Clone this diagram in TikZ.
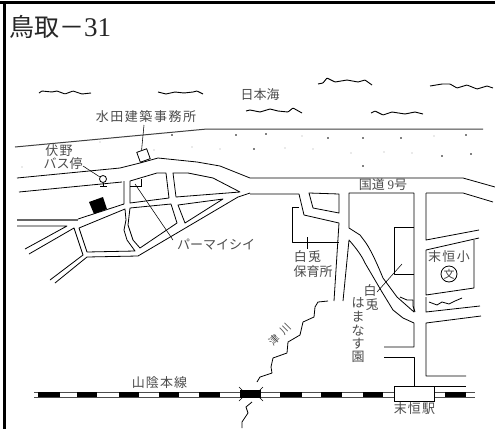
\documentclass[tikz,border=0pt]{standalone}
\usepackage{fontspec}
\newfontfamily\cjk{Noto Sans CJK JP}
\setmainfont{Liberation Serif}
\definecolor{txt}{gray}{0.3}
\tikzset{
  road/.style={line width=0.8pt,black,line join=round},
  thin/.style={line width=0.55pt,black},
  wave/.style={line width=0.9pt,black,rounded corners=0.6pt},
  lab/.style={inner sep=0pt,text=txt,font=\cjk\fontsize{13}{13}\selectfont},
  railbar/.style={line width=0.9pt,black!70}
}
\begin{document}
\begin{tikzpicture}[x=1pt,y=-1pt]
\useasboundingbox (0,0) rectangle (495,429);
\fill[white] (0,0) rectangle (495,429);
% frame
\fill[black] (0,1) rectangle (495,4);
\fill[black] (3,1) rectangle (6,429);
% title
\node[anchor=west,inner sep=0pt,text=black!85] (title) at (9,27) {\cjk\fontsize{25}{25}\selectfont 鳥取－{\rmfamily\fontsize{27}{27}\selectfont 31}};
% waves
\draw[wave] (39,93)--(42,91)--(52,92)--(57,91)--(65,94)--(73,91)--(82,94)--(91,93);
\draw[wave] (158,92)--(166,94)--(175,92)--(184,93)--(193,92)--(197,91)--(203,94);
\draw[wave] (246,111)--(250,110)--(260,112)--(270,109)--(278,111)--(288,112)--(293,108)--(302,113);
\draw[wave] (318,84)--(323,83)--(327,78)--(335,82)--(347,80)--(358,82)--(365,80)--(372,85);
\draw[wave] (430,86)--(442,84)--(450,84)--(457,88)--(467,85)--(477,89)--(487,86)--(493,88);
\draw[wave] (371,113)--(375,111)--(383,115)--(392,112)--(405,114)--(415,112)--(423,114);
% coast
\draw[line width=1pt,black!75] (15,147)--(207,129)--(483,129);
% sea dots
\foreach \p in {(172,135),(236,135),(266,134),(328,138),(363,138),(401,138),(466,135),(254,149),(442,156),(471,154),(363,166)}
  \fill[black] \p circle (0.9);
\foreach \p in {(302,136),(434,136),(285,148),(313,149),(351,153),(384,152),(412,153),(192,147),(220,149),(100,142),(154,150),(22,167)}
  \fill[black!35] \p circle (0.6);
% main road
\draw[road] (17,178)--(120,168)--(140,163)--(158,158)--(197,162)--(220,166)--(250,178)--(463,178)--(495,187);
\draw[road] (19,192)--(122,182);
% left and centre blocks
\draw[road] (124,181)--(124,204)--(78,219);
\draw[line width=1.6pt,black!60] (17,220)--(78,220);
\draw[road] (17,226)--(67,226)--(25,249);
\draw[road] (130,181)--(157,173)--(166,173)--(169,198)--(130,203)--cycle;
\draw[road] (173,173)--(188,173)--(213,178)--(240,192)--(176,197)--cycle;
\draw[road] (178,205)--(223,199)--(185,223)--cycle;
\draw[road] (130,208)--(171,204)--(177,223)--(140,248)--(133,240)--(128,225)--cycle;
\draw[road] (79,228)--(125,209)--(126,220)--(124,230)--(127,240)--(135,251)--(87,252)--cycle;
\draw[road] (29,254)--(74,228)--(83,255)--(50,280);
\draw[road] (250,193)--(238,197)--(138,256)--(87,257)--(55,283);
% right part roads
\draw[road] (250,194)--(299,194)--(304,215)--(339,223)--(334,301);
\draw[road] (309,193)--(339,194)--(339,213)--(313,208)--cycle;
\draw[road] (299,207)--(292,207)--(292,242)--(339,242);
\draw[road] (414,193)--(349,193)--(349,228)--(360,235)--(366,243) .. controls (372,252) and (378,266) .. (383,278)--(397,297)--(414,312)--(414,193);
\draw[road] (343,301)--(349,240) .. controls (356,248) and (362,256) .. (365,263)--(382,292)--(393,310)--(403,318)--(414,323)--(414,347)--(384,347);
\draw[road] (384,357)--(414,357)--(414,386);
\draw[road] (394,227)--(414,227);
\draw[road] (394,227)--(394,274)--(414,274);
\draw[road] (426,193)--(463,193)--(493,202);
\draw[road] (426,193)--(426,240)--(479,230);
\draw[road] (479,238)--(426,250)--(426,295)--(474,288)--(474,240);
\draw[road] (480,306)--(426,312)--(426,297);
\draw[road] (481,316)--(426,323)--(426,376)--(466,376);
\draw[road] (414,386)--(466,386);
\draw[road] (400,297)--(407,300)--(413,300)--(413,306)--(415,312);
\draw[road] (429,302)--(437,305)--(442,302)--(449,304)--(455,301)--(462,298);
% river
\draw[road] (328,301)--(318,302)--(315,307)--(314,317)--(303,322)--(300,335)--(288,342)--(287,353)--(273,358)--(271,367)--(272,373)--(260,377)--(257,382);
\draw[road] (252,402)--(246,407)--(248,413)--(242,422)--(242,428);
% railway
\draw[railbar] (34,392)--(475,392);
\draw[railbar] (34,397)--(475,397);
\foreach \a/\b in {38/60,77/97,119/139,159/179,199/220,280/302,321/342,363/383,445/466}
  \fill[black] (\a,392) rectangle (\b,397);
\fill[black] (240,390) rectangle (261,398);
\draw[thin] (239,387)--(243,391);
\draw[thin] (239,401)--(243,397);
\draw[thin] (263,387)--(259,391);
\draw[thin] (263,401)--(259,397);
\node[draw=black,fill=white,line width=0.8pt,minimum width=40pt,minimum height=15pt,inner sep=0pt] (station) at (414,393.5) {};
% office and bus stop
\node[draw=black,line width=0.8pt,minimum size=10.5pt,rotate=20,inner sep=0pt] (office) at (143.5,155.5) {};
\node[draw=black,circle,line width=0.8pt,minimum size=7pt,inner sep=0pt] (bus) at (103,179) {};
\coordinate (busbase) at (103,186);
\draw[thin] (bus)--(busbase);
\draw[road] (100,186)--(107,186);
\fill[black] (89,202)--(103,197)--(107,209)--(94,214)--cycle;
\draw[thin] (130,186)--(141,186)--(141,179);
% labels
\node[lab] (mizuta) at (146,117) {\addfontfeature{LetterSpace=12}水田建築事務所};
\node[lab] (nihonkai) at (260,95) {日本海};
\node[lab] (fushino) at (59,151) {\addfontfeature{LetterSpace=8}伏野};
\node[lab] (busl) at (63,164) {バス停};
\node[lab] (pamai) at (216,245) {パーマイシイ};
\node[lab] (kokudo) at (383,185) {国道 {\rmfamily 9}号};
\node[lab] (shiro1) at (307.5,257) {\addfontfeature{LetterSpace=8}白兎};
\node[lab] (hoiku) at (313,272) {保育所};
\node[lab] (sueshou) at (449,257) {\addfontfeature{LetterSpace=10}末恒小};
\node[lab] (w1) at (370,291) {白};
\node[lab] (w2) at (372,305) {兎};
\node[lab] (h1) at (358,303) {は};
\node[lab] (h2) at (358,317) {ま};
\node[lab] (h3) at (358,331) {な};
\node[lab] (h4) at (358,344) {す};
\node[lab] (h5) at (358,357) {園};
\node[lab,font=\cjk\fontsize{10.5}{10.5}\selectfont,rotate=45] (kawa1) at (274,340) {津};
\node[lab,font=\cjk\fontsize{10.5}{10.5}\selectfont,rotate=45] (kawa2) at (286,329) {川};
\node[lab] (sanin) at (159.5,383) {\addfontfeature{LetterSpace=8}山陰本線};
\node[lab] (sueeki) at (414.5,409) {\addfontfeature{LetterSpace=8}末恒駅};
\node[draw=black,circle,line width=0.8pt,minimum size=16pt,inner sep=0pt,lab,font=\cjk\fontsize{11}{11}\selectfont,text=black!75] (bun) at (449,274) {文};
% leaders
\coordinate (leadA) at (144,125);
\coordinate (leadB) at (83,166);
\coordinate (leadC) at (135,184);
\coordinate (leadD) at (173,240);
\coordinate (leadE) at (402,264);
\coordinate (leadF) at (377,292);
\coordinate (leadG) at (307,237);
\coordinate (leadH) at (307,249);
\draw[thin] (leadA)--(office.north);
\draw[thin] (leadB)--(bus);
\draw[thin] (leadC)--(leadD);
\draw[thin] (leadE)--(leadF);
\draw[thin] (leadG)--(leadH);
\end{tikzpicture}
\end{document}
